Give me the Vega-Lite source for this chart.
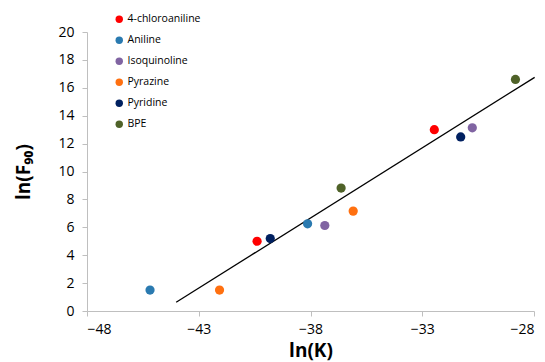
{
  "$schema": "https://vega.github.io/schema/vega-lite/v6.json",
  "width": 447,
  "height": 279,
  "autosize": {"type": "none"},
  "padding": {"left": 87, "top": 32, "right": 11, "bottom": 51},
  "background": "white",
  "config": {
    "view": {"stroke": null},
    "font": "Open Sans",
    "axis": {"grid": false, "domainColor": "#bfbfbf", "tickColor": "#bfbfbf", "labelColor": "#000000", "labelFontSize": 14, "labelFont": "Open Sans", "titleFont": "Open Sans", "titleFontWeight": "bold", "titleFontSize": 19, "titleColor": "#000000", "tickSize": 5}
  },
  "layer": [
    {
      "data": {"values": [
        {"lnK": -44.01, "lnF": 0.63},
        {"lnK": -27.97, "lnF": 16.75}
      ]},
      "mark": {"type": "line", "color": "#000000", "strokeWidth": 1.3},
      "encoding": {
        "x": {"field": "lnK", "type": "quantitative"},
        "y": {"field": "lnF", "type": "quantitative"}
      }
    },
    {
      "data": {"values": [
        {"compound": "4-chloroaniline", "lnK": -40.39, "lnF": 5.0},
        {"compound": "4-chloroaniline", "lnK": -32.46, "lnF": 13.0},
        {"compound": "Aniline", "lnK": -45.18, "lnF": 1.5},
        {"compound": "Aniline", "lnK": -38.13, "lnF": 6.25},
        {"compound": "Isoquinoline", "lnK": -37.36, "lnF": 6.13},
        {"compound": "Isoquinoline", "lnK": -30.76, "lnF": 13.13},
        {"compound": "Pyrazine", "lnK": -42.07, "lnF": 1.5},
        {"compound": "Pyrazine", "lnK": -36.09, "lnF": 7.16},
        {"compound": "Pyridine", "lnK": -39.8, "lnF": 5.19},
        {"compound": "Pyridine", "lnK": -31.28, "lnF": 12.48},
        {"compound": "BPE", "lnK": -36.63, "lnF": 8.81},
        {"compound": "BPE", "lnK": -28.83, "lnF": 16.6}
      ]},
      "mark": {"type": "circle", "size": 85, "opacity": 1},
      "encoding": {
        "x": {"field": "lnK", "type": "quantitative", "title": "ln(K)",
          "scale": {"domain": [-48, -28], "nice": false, "zero": false},
          "axis": {"values": [-48, -43, -38, -33, -28], "titlePadding": 5, "labelPadding": 6, "labelOverlap": false}},
        "y": {"field": "lnF", "type": "quantitative", "title": "ln(F₉₀)",
          "scale": {"domain": [0, 20], "nice": false},
          "axis": {"values": [0, 2, 4, 6, 8, 10, 12, 14, 16, 18, 20], "tickCount": 11, "titlePadding": 24, "labelPadding": 8, "labelOverlap": false}},
        "color": {"field": "compound", "type": "nominal",
          "scale": {"domain": ["4-chloroaniline", "Aniline", "Isoquinoline", "Pyrazine", "Pyridine", "BPE"],
            "range": ["#ff0000", "#2a7ab0", "#8064a2", "#ff7010", "#002060", "#4f6228"]},
          "legend": {"title": null, "orient": "none", "legendX": 27, "legendY": -18, "labelFontSize": 10.5, "labelFont": "Open Sans", "symbolType": "circle", "symbolSize": 55, "rowPadding": 10, "labelOffset": 3, "symbolOpacity": 1, "symbolStrokeWidth": 0}}
      }
    }
  ]
}
